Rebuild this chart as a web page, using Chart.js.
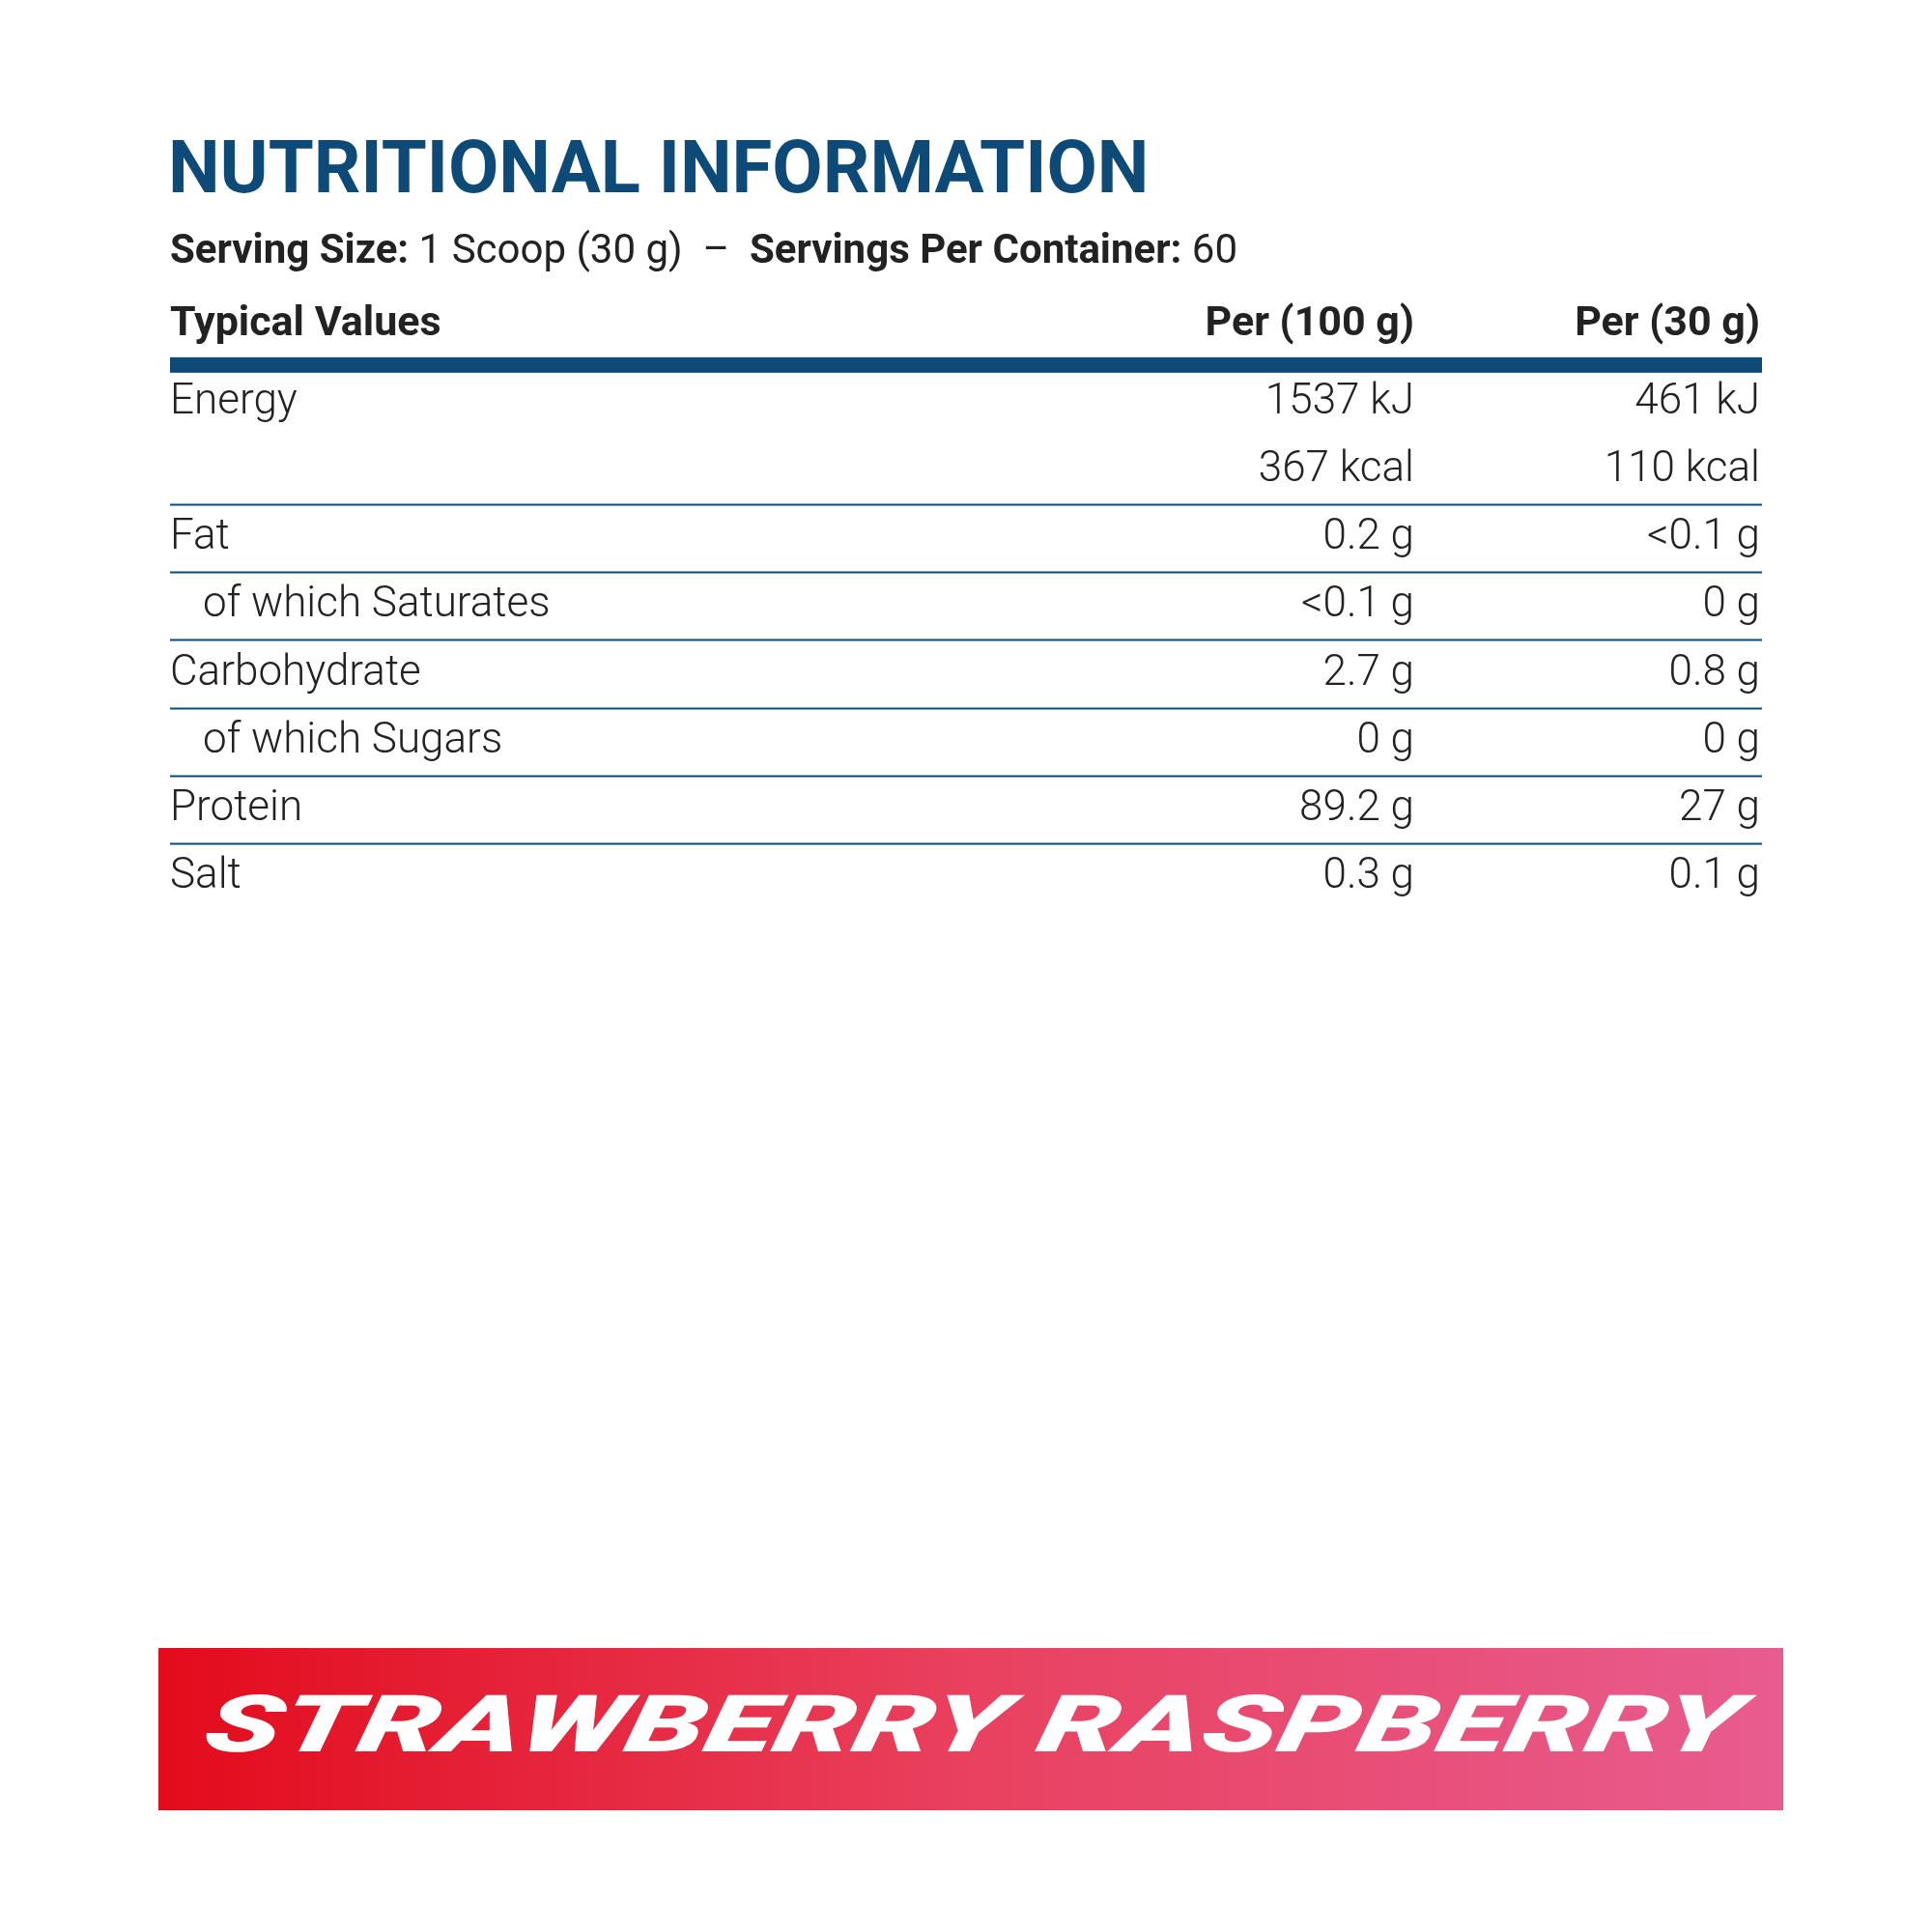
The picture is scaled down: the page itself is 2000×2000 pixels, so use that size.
<!DOCTYPE html>
<html><head><meta charset="utf-8">
<script src="https://cdn.jsdelivr.net/npm/chart.js@4"></script>
<style>html,body{margin:0;background:#fff}#c{display:block}</style>
</head><body>
<canvas id="c" width="2000" height="2000"></canvas>
<script>
const title = 'NUTRITIONAL INFORMATION';
const headers = ['Typical Values', 'Per (100 g)', 'Per (30 g)'];
const nutrients = ['Energy', '', 'Fat', 'of which Saturates', 'Carbohydrate', 'of which Sugars', 'Protein', 'Salt'];
const indented = [false, false, false, true, false, true, false, false];
const per100 = ['1537 kJ', '367 kcal', '0.2 g', '<0.1 g', '2.7 g', '0 g', '89.2 g', '0.3 g'];
const per30 = ['461 kJ', '110 kcal', '<0.1 g', '0 g', '0.8 g', '0 g', '27 g', '0.1 g'];
const dividersAfter = [1, 2, 3, 4, 5, 6];
const flavour = 'STRAWBERRY RASPBERRY';

const BLUE = '#0d4a78';
const rowIdx = nutrients.map((_, i) => i);

const tablePlugin = {
  id: 'table',
  afterDraw(chart) {
    const ctx = chart.ctx, y = chart.scales.y;
    const L = 176, R = 1824, C1 = 1464, C2 = 1822;
    ctx.save();
    ctx.textBaseline = 'middle';
    // title
    ctx.fillStyle = BLUE;
    ctx.font = 'bold 76px Roboto';
    ctx.textAlign = 'left';
    ctx.fillText(title, L - 2, 180);
    // serving line
    ctx.fillStyle = '#222';
    let x = L;
    const parts = [['bold', 'Serving Size: '], ['normal', '1 Scoop (30 g)  –  '], ['bold', 'Servings Per Container: '], ['normal', '60']];
    parts.forEach(([w, t]) => {
      ctx.font = w + ' 42px Roboto';
      ctx.fillText(t, x, 261);
      x += ctx.measureText(t).width;
    });
    // header row
    const hy = y.getPixelForValue(-1.16);
    ctx.font = 'bold 43px Roboto';
    ctx.fillText(headers[0], L, hy);
    ctx.textAlign = 'right';
    ctx.fillText(headers[1], C1, hy);
    ctx.fillText(headers[2], C2, hy);
    ctx.fillStyle = BLUE;
    const ty = y.getPixelForValue(-0.56);
    ctx.fillRect(L, ty - 8, R - L, 16);
    // rows
    ctx.font = '300 44px Roboto';
    ctx.fillStyle = '#222';
    rowIdx.forEach(i => {
      const py = y.getPixelForValue(i);
      ctx.textAlign = 'left';
      ctx.fillText(nutrients[i], indented[i] ? L + 34 : L, py);
      ctx.textAlign = 'right';
      ctx.fillText(per100[i], C1, py);
      ctx.fillText(per30[i], C2, py);
    });
    ctx.strokeStyle = BLUE;
    ctx.lineWidth = 2;
    dividersAfter.forEach(i => {
      const py = Math.round(y.getPixelForValue(i + 0.5)) + 0.5;
      ctx.beginPath(); ctx.moveTo(L, py); ctx.lineTo(R, py); ctx.stroke();
    });
    // flavour banner
    const g = ctx.createLinearGradient(164, 0, 1846, 0);
    g.addColorStop(0, '#e30b1c');
    g.addColorStop(0.5, '#e9415f');
    g.addColorStop(1, '#e85c8f');
    ctx.fillStyle = g;
    ctx.fillRect(164, 1706, 1682, 168);
    ctx.fillStyle = '#fff';
    ctx.font = 'italic 900 82px Roboto';
    ctx.textAlign = 'left';
    const w = ctx.measureText(flavour).width;
    ctx.translate(212, 1792);
    ctx.transform(1, 0, -0.2, 1, 0, 0);
    ctx.scale(1589 / w, 1);
    ctx.fillText(flavour, 0, 0);
    ctx.restore();
  }
};

new Chart(document.getElementById('c'), {
  type: 'scatter',
  data: { datasets: [{ data: rowIdx.map(i => ({ x: 0, y: i })), pointRadius: 0 }] },
  options: {
    responsive: false, animation: false,
    layout: { padding: 0 },
    plugins: { legend: { display: false }, tooltip: { enabled: false } },
    scales: {
      x: { display: false, min: 0, max: 1 },
      y: { display: false, reverse: true, min: -5.95, max: 22.58 }
    }
  },
  plugins: [tablePlugin]
});
</script>
</body></html>
